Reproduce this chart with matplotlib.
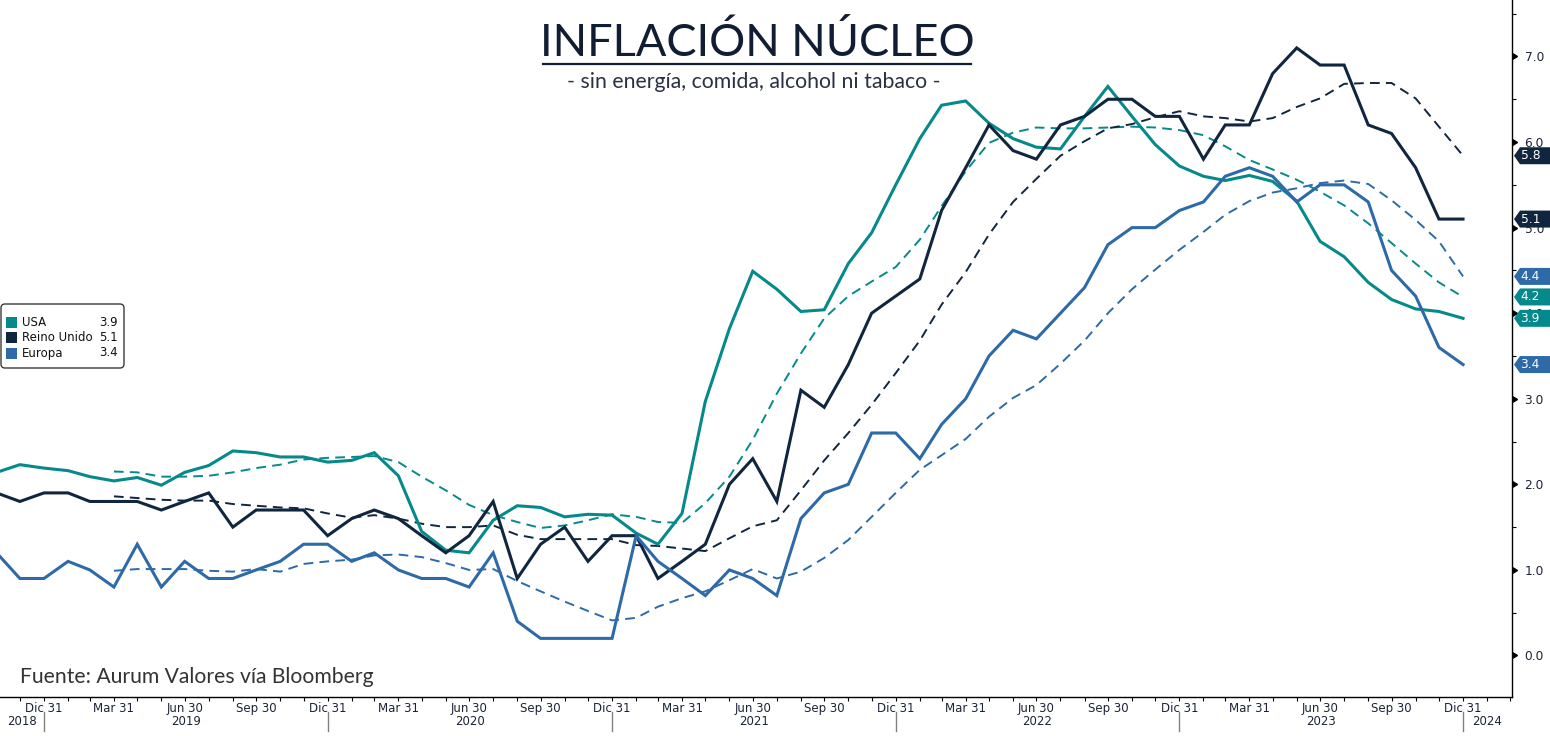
import numpy as np
import pandas as pd
import matplotlib
matplotlib.use("Agg")
import matplotlib.pyplot as plt
import matplotlib.dates as mdates
import matplotlib.markers as mmarkers
import matplotlib.transforms as mtransforms
from matplotlib.patches import Polygon, FancyBboxPatch, Rectangle
from matplotlib.lines import Line2D
from matplotlib.ticker import FixedLocator, MultipleLocator, FuncFormatter

# ---------------- data ----------------
dates = pd.date_range("2018-10-31", "2023-12-31", freq="ME")
usa = [2.14, 2.23, 2.19, 2.16, 2.09, 2.04, 2.08, 1.99, 2.14, 2.22, 2.39, 2.37,
       2.32, 2.32, 2.26, 2.28, 2.37, 2.10, 1.45, 1.23, 1.20, 1.58, 1.75, 1.73,
       1.62, 1.65, 1.64, 1.43, 1.30, 1.66, 2.97, 3.82, 4.49, 4.28, 4.02, 4.04,
       4.58, 4.94, 5.50, 6.04, 6.43, 6.48, 6.22, 6.04, 5.94, 5.92, 6.30, 6.65,
       6.30, 5.97, 5.72, 5.60, 5.55, 5.61, 5.54, 5.31, 4.84, 4.66, 4.36, 4.16,
       4.05, 4.02, 3.94]
reino_unido = [1.9, 1.8, 1.9, 1.9, 1.8, 1.8, 1.8, 1.7, 1.8, 1.9, 1.5, 1.7,
               1.7, 1.7, 1.4, 1.6, 1.7, 1.6, 1.4, 1.2, 1.4, 1.8, 0.9, 1.3,
               1.5, 1.1, 1.4, 1.4, 0.9, 1.1, 1.3, 2.0, 2.3, 1.8, 3.1, 2.9,
               3.4, 4.0, 4.2, 4.4, 5.2, 5.7, 6.2, 5.9, 5.8, 6.2, 6.3, 6.5,
               6.5, 6.3, 6.3, 5.8, 6.2, 6.2, 6.8, 7.1, 6.9, 6.9, 6.2, 6.1,
               5.7, 5.1, 5.1]
europa = [1.2, 0.9, 0.9, 1.1, 1.0, 0.8, 1.3, 0.8, 1.1, 0.9, 0.9, 1.0,
          1.1, 1.3, 1.3, 1.1, 1.2, 1.0, 0.9, 0.9, 0.8, 1.2, 0.4, 0.2,
          0.2, 0.2, 0.2, 1.4, 1.1, 0.9, 0.7, 1.0, 0.9, 0.7, 1.6, 1.9,
          2.0, 2.6, 2.6, 2.3, 2.7, 3.0, 3.5, 3.8, 3.7, 4.0, 4.3, 4.8,
          5.0, 5.0, 5.2, 5.3, 5.6, 5.7, 5.6, 5.3, 5.5, 5.5, 5.3, 4.5,
          4.2, 3.6, 3.4]

avg_dates = pd.date_range("2019-03-31", "2023-12-31", freq="ME")
usa_avg = [2.15, 2.14, 2.09, 2.09, 2.10, 2.14, 2.19, 2.23, 2.29, 2.31, 2.32, 2.33,
           2.26, 2.09, 1.93, 1.76, 1.64, 1.56, 1.49, 1.52, 1.58, 1.65, 1.62, 1.56,
           1.55, 1.78, 2.09, 2.52, 3.06, 3.53, 3.94, 4.20, 4.37, 4.54, 4.86, 5.25,
           5.66, 5.99, 6.11, 6.17, 6.16, 6.16, 6.17, 6.18, 6.17, 6.14, 6.08, 5.95,
           5.79, 5.68, 5.56, 5.42, 5.26, 5.05, 4.82, 4.58, 4.36, 4.19]
reino_unido_avg = [1.86, 1.84, 1.82, 1.81, 1.81, 1.77, 1.75, 1.73, 1.72, 1.66, 1.61, 1.64,
                   1.60, 1.54, 1.50, 1.50, 1.52, 1.41, 1.36, 1.36, 1.36, 1.36, 1.29, 1.28,
                   1.25, 1.22, 1.37, 1.51, 1.58, 1.93, 2.28, 2.60, 2.93, 3.30, 3.68, 4.10,
                   4.48, 4.92, 5.30, 5.57, 5.84, 6.01, 6.16, 6.21, 6.29, 6.36, 6.30, 6.28,
                   6.24, 6.28, 6.41, 6.51, 6.68, 6.69, 6.69, 6.51, 6.18, 5.84]
europa_avg = [0.99, 1.01, 1.01, 1.01, 0.99, 0.98, 1.01, 0.98, 1.07, 1.10, 1.12, 1.17,
              1.18, 1.15, 1.08, 1.00, 1.01, 0.87, 0.75, 0.63, 0.52, 0.41, 0.44, 0.57,
              0.67, 0.75, 0.88, 1.01, 0.90, 0.98, 1.14, 1.35, 1.62, 1.90, 2.17, 2.34,
              2.53, 2.79, 3.01, 3.16, 3.41, 3.68, 4.00, 4.28, 4.51, 4.74, 4.95, 5.15,
              5.31, 5.41, 5.46, 5.52, 5.55, 5.51, 5.32, 5.09, 4.84, 4.43]

series_names = ["USA", "Reino Unido", "Europa"]
quarter_ticks = pd.date_range("2018-12-31", "2023-12-31", freq="QE")
month_ticks = pd.date_range("2018-11-30", "2024-02-29", freq="ME")
mes = {3: "Mar", 6: "Jun", 9: "Sep", 12: "Dic"}
tick_labels = [f"{mes[d.month]} {d.day}" for d in quarter_ticks]
year_labels = ["2018", "2019", "2020", "2021", "2022", "2023", "2024"]
year_ends = pd.date_range("2018-12-31", "2023-12-31", freq="YE")

title = "INFLACIÓN NÚCLEO"
subtitle = "- sin energía, comida, alcohol ni tabaco -"
fuente = "Fuente: Aurum Valores vía Bloomberg"

# ---------------- style ----------------
TEAL = "#06898a"
NAVY = "#10263f"
BLUE = "#2d6aa7"
TXT = "#1b2336"
colors = [TEAL, NAVY, BLUE]

W, H = 1550, 736
fig = plt.figure(figsize=(W / 100, H / 100), dpi=100)
ax = fig.add_axes([0, 39 / H, 1512 / W, 697 / H])

xmin = pd.Timestamp("2018-11-04 10:00")
xmax = pd.Timestamp("2024-03-03")
ax.set_xlim(xmin, xmax)
ax.set_ylim(-0.485, 7.66)

dash = (5, 3.2)
for vals, c in zip([usa_avg, reino_unido_avg, europa_avg], colors):
    ax.plot(avg_dates, vals, color=c, lw=1.4, dashes=dash)
for vals, c in zip([usa, reino_unido, europa], colors):
    ax.plot(dates, vals, color=c, lw=2.2, solid_joinstyle="miter")

for s in ["top", "left"]:
    ax.spines[s].set_visible(False)
for s in ["right", "bottom"]:
    ax.spines[s].set_color("black")
    ax.spines[s].set_linewidth(1.0)

# x axis
ax.set_xticks(mdates.date2num(quarter_ticks))
ax.set_xticklabels(tick_labels)
ax.xaxis.set_minor_locator(FixedLocator(mdates.date2num(month_ticks)))
ax.tick_params(axis="x", which="both", direction="out", length=3, width=0.8,
               color="black", labelsize=8.5, labelcolor=TXT, pad=0.5)

trans_xa = mtransforms.blended_transform_factory(ax.transData, ax.transAxes)
bounds = [mdates.date2num(xmin)] + list(mdates.date2num(year_ends)) + [mdates.date2num(xmax)]
for i, lab in enumerate(year_labels):
    c = (bounds[i] + bounds[i + 1]) / 2
    ax.text(c, -0.0355, lab, transform=trans_xa, ha="center", va="center",
            fontsize=8.5, color=TXT, clip_on=False)
for d in mdates.date2num(year_ends):
    ln = Line2D([d, d], [-0.022, -0.049], transform=trans_xa, color="#808080",
                lw=1.0, clip_on=False)
    ax.add_line(ln)

# y axis
ax.yaxis.tick_right()
ax.yaxis.set_major_locator(MultipleLocator(1.0))
ax.yaxis.set_minor_locator(MultipleLocator(0.5))
ax.yaxis.set_major_formatter(FuncFormatter(lambda v, p: f"{v:.1f}"))
ax.tick_params(axis="y", which="major", direction="out", length=5, width=1,
               color="black", labelsize=8.8, labelcolor=TXT, pad=4)
ax.tick_params(axis="y", which="minor", direction="out", length=3, width=0.8,
               color="black")
for t in ax.yaxis.get_major_ticks():
    t.tick2line.set_marker(mmarkers.CARETRIGHTBASE)
    t.tick2line.set_markersize(5)

# ---------------- titles ----------------
ident = mtransforms.IdentityTransform()
t_title = fig.text(757 / W, 1 - 43 / H, title, ha="center", va="center",
                   fontsize=32.5, family=["Lato", "DejaVu Sans"], color="#111d33")
fig.text(754 / W, 1 - 82 / H, subtitle, ha="center", va="center",
         fontsize=15.3, family=["Lato", "DejaVu Sans"], color="#2a3142")
fig.text(20 / W, 1 - 677 / H, fuente, ha="left", va="center",
         fontsize=15.2, family=["Lato", "DejaVu Sans"], color="#333333")

fig.canvas.draw()
bb = t_title.get_window_extent()
fig.add_artist(Line2D([bb.x0 + 3, bb.x1 - 3], [H - 64, H - 64], transform=ident,
                      color="#111d33", lw=1.6))

# ---------------- legend ----------------
fig.add_artist(FancyBboxPatch((1, H - 368), 123, 64,
                              boxstyle="round,pad=0,rounding_size=4",
                              transform=ident, facecolor="white",
                              edgecolor="#3a3a3a", lw=1.0))
last_vals = [usa[-1], reino_unido[-1], europa[-1]]
for k, (name, c, v) in enumerate(zip(series_names, colors, last_vals)):
    yc = H - (322 + 15.5 * k)
    fig.add_artist(Rectangle((6, yc - 5.5), 11, 11, transform=ident,
                             facecolor=c, edgecolor="none"))
    fig.text(22, yc, name, transform=ident, ha="left", va="center",
             fontsize=8.5, color="#111111")
    fig.text(118, yc, f"{v:.1f}", transform=ident, ha="right", va="center",
             fontsize=8.5, color="#111111")

# ---------------- end-value tags ----------------
tags = [(reino_unido_avg[-1], NAVY), (reino_unido[-1], NAVY),
        (europa_avg[-1], BLUE), (usa_avg[-1], TEAL),
        (usa[-1], TEAL), (europa[-1], BLUE)]
for v, c in tags:
    yd = ax.transData.transform((0, v))[1]
    h = 8.5
    poly = Polygon([[1514, yd], [1520, yd + h], [1552, yd + h],
                    [1552, yd - h], [1520, yd - h]], closed=True,
                   transform=ident, facecolor=c, edgecolor="none")
    fig.add_artist(poly)
    fig.text(1520.5, yd, f"{v:.1f}", transform=ident, ha="left", va="center",
             fontsize=8.8, color="white")

fig.savefig("out.png", dpi=100)
